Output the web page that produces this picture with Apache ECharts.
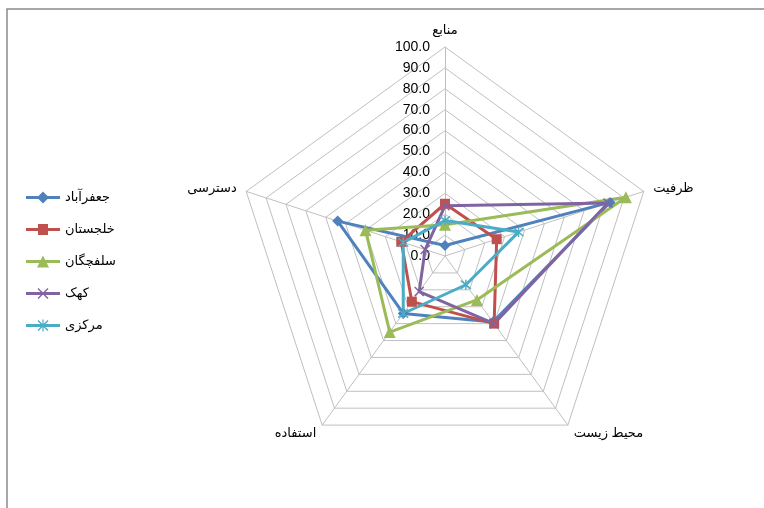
<!DOCTYPE html>
<html>
<head>
<meta charset="utf-8">
<script src="https://cdn.jsdelivr.net/npm/echarts@6/dist/echarts.min.js"></script>
<style>
html,body{margin:0;padding:0;background:#fff;}
#c{width:764px;height:508px;}
</style>
</head>
<body>
<div id="c"></div>
<script>
// Indicators in ECharts order (counter-clockwise from top)
const indicators = ['منابع', 'دسترسی', 'استفاده', 'محیط زیست', 'ظرفیت'];
const seriesNames = ['جعفرآباد', 'خلجستان', 'سلفچگان', 'کهک', 'مرکزی'];
const jafarabad = [5, 54, 34, 39, 83];
const khaljestan = [25, 22, 27, 40, 26];
const salafchegan = [15, 40, 45, 26, 91];
const kahak = [24, 10, 21, 40, 82];
const markazi = [17, 21, 34, 17, 37];
const tickValues = [0, 10, 20, 30, 40, 50, 60, 70, 80, 90, 100];

const colors = ['#4F81BD', '#C0504D', '#9BBB59', '#8064A2', '#4BACC6'];
const symbols = [
  'diamond', 'rect', 'triangle',
  'path://M0,0 L10,10 M10,0 L0,10',
  'path://M0,0 L10,10 M10,0 L0,10 M5,-1 L5,11'
];
const symbolSizes = [11, 10, 12, 9, 10];
const values = [jafarabad, khaljestan, salafchegan, kahak, markazi];

// legend icons: line + marker in a 34x12 box
const LINE = 'M0,4.6 L34,4.6 L34,7.4 L0,7.4 Z ';
const XSHAPE = 'M12.5,0.5 L17,5 L21.5,0.5 L22.5,1.5 L18,6 L22.5,10.5 L21.5,11.5 L17,7 L12.5,11.5 L11.5,10.5 L16,6 L11.5,1.5 Z ';
const legendIcons = [
  'path://' + LINE + 'M17,0 L23,6 L17,12 L11,6 Z',
  'path://' + LINE + 'M12,0.5 L22,0.5 L22,11.5 L12,11.5 Z',
  'path://' + LINE + 'M17,0 L23,12 L11,12 Z',
  'path://' + LINE + XSHAPE,
  'path://' + LINE + XSHAPE + 'M16.4,0 L17.6,0 L17.6,12 L16.4,12 Z'
];

const FONT = 'Liberation Sans, DejaVu Sans, sans-serif';
const cx = 445, cy = 256, R = 209;

const chart = echarts.init(document.getElementById('c'), null, {renderer: 'canvas'});
const series = values.map((v, i) => ({
  name: seriesNames[i],
  type: 'radar',
  symbol: symbols[i],
  symbolSize: symbolSizes[i],
  lineStyle: {width: 3, color: colors[i]},
  itemStyle: {
    color: colors[i],
    borderColor: colors[i],
    borderWidth: i >= 3 ? 1.5 : 0
  },
  data: [{value: v, name: seriesNames[i]}]
}));

chart.setOption({
  backgroundColor: '#fff',
  animation: false,
  color: colors,
  graphic: [{
    type: 'rect',
    shape: {x: 7, y: 9, width: 800, height: 600},
    style: {fill: 'none', stroke: '#8a8a8a', lineWidth: 1.5},
    silent: true, z: -1
  }],
  legend: {
    orient: 'vertical',
    left: 26,
    top: 191,
    padding: 0,
    itemWidth: 34,
    itemHeight: 12,
    itemGap: 19,
    textStyle: {fontSize: 13, fontFamily: FONT, color: '#000'},
    data: seriesNames.map((n, i) => ({name: n, icon: legendIcons[i],
      itemStyle: {color: colors[i], borderWidth: 0}}))
  },
  radar: {
    center: [cx, cy],
    radius: R,
    startAngle: 90,
    splitNumber: 10,
    shape: 'polygon',
    axisNameGap: 10,
    axisName: {color: '#000', fontSize: 13, fontFamily: FONT},
    axisLine: {lineStyle: {color: '#c0c0c0', width: 1}},
    splitLine: {lineStyle: {color: '#c0c0c0', width: 1}},
    splitArea: {show: false},
    indicator: indicators.map(n => ({name: n, min: 0, max: 100}))
  },
  grid: {left: cx, top: cy - R, width: 1, height: R},
  xAxis: {type: 'value', show: false},
  yAxis: {
    type: 'value', min: tickValues[0], max: tickValues[tickValues.length - 1], interval: 10,
    axisLine: {show: false}, axisTick: {show: false}, splitLine: {show: false},
    axisLabel: {margin: 15, fontSize: 14, fontFamily: FONT, color: '#000',
      formatter: v => v.toFixed(1)}
  },
  series: series
});
</script>
</body>
</html>
